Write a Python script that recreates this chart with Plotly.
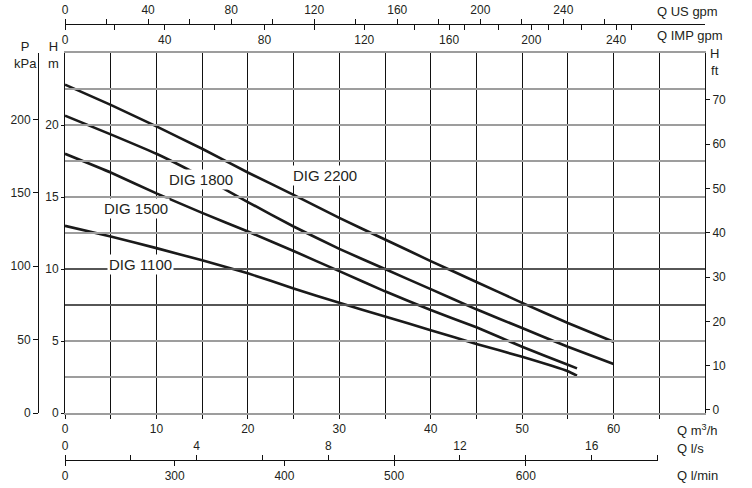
import plotly.graph_objects as go

# ---------------- data ----------------
Q_LONG = [0, 5, 10, 15, 20, 25, 30, 35, 40, 45, 50, 55, 60]          # m3/h
Q_SHORT = [0, 5, 10, 15, 20, 25, 30, 35, 40, 45, 50, 55, 56]         # m3/h
H_DIG2200 = [22.8, 21.4, 19.9, 18.35, 16.7, 15.15, 13.55, 12.05, 10.55, 9.1, 7.65, 6.25, 4.95]
H_DIG1800 = [20.65, 19.35, 18.0, 16.4, 14.65, 12.95, 11.4, 10.0, 8.6, 7.2, 5.9, 4.6, 3.4]
H_DIG1500 = [18.0, 16.7, 15.25, 13.9, 12.6, 11.25, 9.85, 8.45, 7.15, 5.95, 4.6, 3.35, 3.1]
H_DIG1100 = [13.0, 12.25, 11.45, 10.6, 9.7, 8.65, 7.65, 6.7, 5.75, 4.8, 3.9, 2.9, 2.6]
MODEL_NAMES = ["DIG 2200", "DIG 1800", "DIG 1500", "DIG 1100"]

Q_M3H_TICKS = [0, 10, 20, 30, 40, 50, 60]
Q_M3H_GRID = [5, 15, 25, 35, 45, 55, 65]
US_GPM_TICKS = [0, 40, 80, 120, 160, 200, 240]
US_GPM_MINOR = [20, 60, 100, 140, 180, 220, 260]
# IMP gpm labels as printed (their spacing changes beyond 120 in the reference)
IMP_GPM_LABELS = ["0", "40", "80", "120", "160", "200", "240"]
IMP_GPM_TICK_POS = [0, 40, 80, 120, 154, 187, 221]
IMP_GPM_MINOR = [20, 60, 100, 140, 160, 174, 194, 207, 227]
LS_TICKS = [0, 4, 8, 12, 16]
LMIN_TICK_VALUES = [0, 200, 400, 600, 840]
LMIN_TICK_LABELS = ["0", "300", "400", "500", "600"]
HM_TICKS = [0, 5, 10, 15, 20]
HM_GRID = [2.5, 7.5, 12.5, 17.5, 22.5, 25]
KPA_TICKS = [0, 50, 100, 150, 200]
HFT_TICKS = [0, 10, 20, 30, 40, 50, 60, 70]

Q_MAX = 70.0
H_MAX = 25.0
M3H_TO_USGPM = 4.40287
M3H_TO_IMPGPM = 3.66615
M3H_TO_LS = 1 / 3.6
M_TO_KPA = 9.80665

# ---------------- layout geometry ----------------
W, HGT = 752, 488
ML, MR, MT, MB = 38, 47, 24, 28
PW = W - ML - MR
PH = HGT - MT - MB


def px_x(px):
    return (px - ML) / PW


def px_y(py):
    return (HGT - MB - py) / PH


X_DOM = [px_x(65), 1.0]
Y_DOM = [px_y(413), px_y(53)]
LS_DOM = [px_x(65), px_x(658)]
LS_Q_SPAN = Q_MAX * (LS_DOM[1] - LS_DOM[0]) / (X_DOM[1] - X_DOM[0])

FONT = "Liberation Sans, Arial, Helvetica, sans-serif"
TXT = "#231f20"
GRID_GRAY = "#9d9d9d"
BLACK = "#111111"

fig = go.Figure()
curves = [(Q_LONG, H_DIG2200), (Q_LONG, H_DIG1800), (Q_SHORT, H_DIG1500), (Q_SHORT, H_DIG1100)]
for name, (qx, hy) in zip(MODEL_NAMES, curves):
    fig.add_trace(go.Scatter(x=qx, y=hy, mode="lines", name=name,
                             line=dict(color="#1a1a1a", width=2.6, shape="spline", smoothing=0.4),
                             showlegend=False, hoverinfo="skip"))

# empty traces so that every secondary unit axis is drawn
for xa, ya in [("x2", "y"), ("x3", "y"), ("x4", "y"), ("x5", "y"), ("x", "y2"), ("x", "y3")]:
    fig.add_trace(go.Scatter(x=[], y=[], xaxis=xa, yaxis=ya, mode="lines",
                             showlegend=False, hoverinfo="skip"))

tickfont = dict(family=FONT, size=12, color=TXT)
common = dict(zeroline=False, tickfont=tickfont, fixedrange=True, automargin=False)

fig.update_layout(
    width=W, height=HGT,
    margin=dict(l=ML, r=MR, t=MT, b=MB, pad=0, autoexpand=False),
    paper_bgcolor="white", plot_bgcolor="rgba(0,0,0,0)",
    font=dict(family=FONT, size=12, color=TXT),
    showlegend=False,
    xaxis=dict(domain=X_DOM, range=[0, Q_MAX], tickmode="array", tickvals=Q_M3H_TICKS,
               ticktext=[str(v) for v in Q_M3H_TICKS], ticks="outside", ticklen=4,
               tickcolor=BLACK, showgrid=True, gridcolor=BLACK, gridwidth=1,
               minor=dict(tickmode="array", tickvals=Q_M3H_GRID, showgrid=True,
                          gridcolor=BLACK, gridwidth=1, ticks="outside", ticklen=4,
                          tickcolor=BLACK),
               showline=True, linecolor=GRID_GRAY, linewidth=1.5, mirror=True, **common),
    yaxis=dict(domain=Y_DOM, range=[0, H_MAX], tickmode="array", tickvals=HM_TICKS,
               ticks="outside", ticklen=3, tickcolor=BLACK,
               showgrid=True, gridcolor=GRID_GRAY, gridwidth=1.5,
               minor=dict(tickmode="array", tickvals=HM_GRID, showgrid=True,
                          gridcolor=GRID_GRAY, gridwidth=1.5, ticks=""),
               showline=True, linecolor=BLACK, linewidth=1, **common),
    yaxis2=dict(overlaying="y", side="right", anchor="x", range=[-0.68, 80.58],
                tickmode="array", tickvals=HFT_TICKS, ticks="outside", ticklen=4,
                tickcolor=BLACK, showgrid=False, showline=True, linecolor=BLACK,
                linewidth=1, **common),
    yaxis3=dict(overlaying="y", side="left", anchor="free", position=0,
                range=[0, H_MAX * M_TO_KPA], tickmode="array", tickvals=KPA_TICKS,
                ticks="outside", ticklen=5, tickcolor=BLACK, showgrid=False,
                showline=True, linecolor=BLACK, linewidth=1, **common),
    xaxis2=dict(overlaying="x", side="top", anchor="free", position=1,
                range=[0, Q_MAX * M3H_TO_USGPM], tickmode="array", tickvals=US_GPM_TICKS,
                ticks="outside", ticklen=5, tickcolor=BLACK,
                minor=dict(tickmode="array", tickvals=US_GPM_MINOR, ticks="outside",
                           ticklen=5, tickcolor=BLACK),
                showgrid=False, showline=True, linecolor=BLACK, linewidth=1, **common),
    xaxis3=dict(overlaying="x", side="bottom", anchor="free", position=1,
                range=[0, Q_MAX * M3H_TO_IMPGPM], tickmode="array",
                tickvals=IMP_GPM_TICK_POS, ticktext=IMP_GPM_LABELS,
                ticks="outside", ticklen=5, tickcolor=BLACK,
                minor=dict(tickmode="array", tickvals=IMP_GPM_MINOR, ticks="outside",
                           ticklen=5, tickcolor=BLACK),
                showgrid=False, showline=True, linecolor=BLACK, linewidth=1, **common),
    xaxis4=dict(domain=LS_DOM, side="top", anchor="free", position=0,
                range=[0, LS_Q_SPAN * M3H_TO_LS], tickmode="array", tickvals=LS_TICKS,
                ticks="outside", ticklen=5, tickcolor=BLACK,
                minor=dict(dtick=2, tick0=0, ticks="outside", ticklen=5, tickcolor=BLACK),
                showgrid=False, showline=True, linecolor=BLACK, linewidth=1, **common),
    xaxis5=dict(overlaying="x4", side="bottom", anchor="free", position=0,
                range=[0, LS_Q_SPAN * M3H_TO_LS * 60], tickmode="array",
                tickvals=LMIN_TICK_VALUES, ticktext=LMIN_TICK_LABELS,
                ticks="outside", ticklen=5, tickcolor=BLACK,
                showgrid=False, showline=True, linecolor=BLACK, linewidth=1, **common),
)

# darker horizontal grid lines seen in the reference
for hv in [10, 7.5]:
    fig.add_shape(type="line", xref="x", yref="y", x0=0, x1=Q_MAX, y0=hv, y1=hv,
                  line=dict(color=BLACK, width=1.2), layer="above")

# curve labels
label_pos = [(28.4, 16.5), (14.9, 16.2), (7.8, 14.2), (8.3, 10.3)]
for name, (lx, ly) in zip(MODEL_NAMES, label_pos):
    fig.add_annotation(x=lx, y=ly, xref="x", yref="y", text=name, showarrow=False,
                       font=dict(family=FONT, size=15, color=TXT),
                       bgcolor="white", borderpad=1)

# axis titles
titles = [
    ("P<br>kPa", 25, 55, "center"),
    ("H<br>m", 53, 55, "center"),
    ("H<br>ft", 714, 62, "center"),
    ("Q US gpm", 655, 12, "left"),
    ("Q IMP gpm", 655, 35, "left"),
    ("Q m<sup>3</sup>/h", 675, 430, "left"),
    ("Q l/s", 675, 448, "left"),
    ("Q l/min", 675, 475, "left"),
]
for text, tx, ty, al in titles:
    fig.add_annotation(x=px_x(tx), y=px_y(ty), xref="paper", yref="paper", text=text,
                       showarrow=False, xanchor=al, yanchor="middle", align=al,
                       font=dict(family=FONT, size=13, color=TXT))

fig.write_html("out.html", config={"displayModeBar": False},
               post_script="document.body.style.margin='0px';"
                           "document.body.style.overflow='hidden';")
